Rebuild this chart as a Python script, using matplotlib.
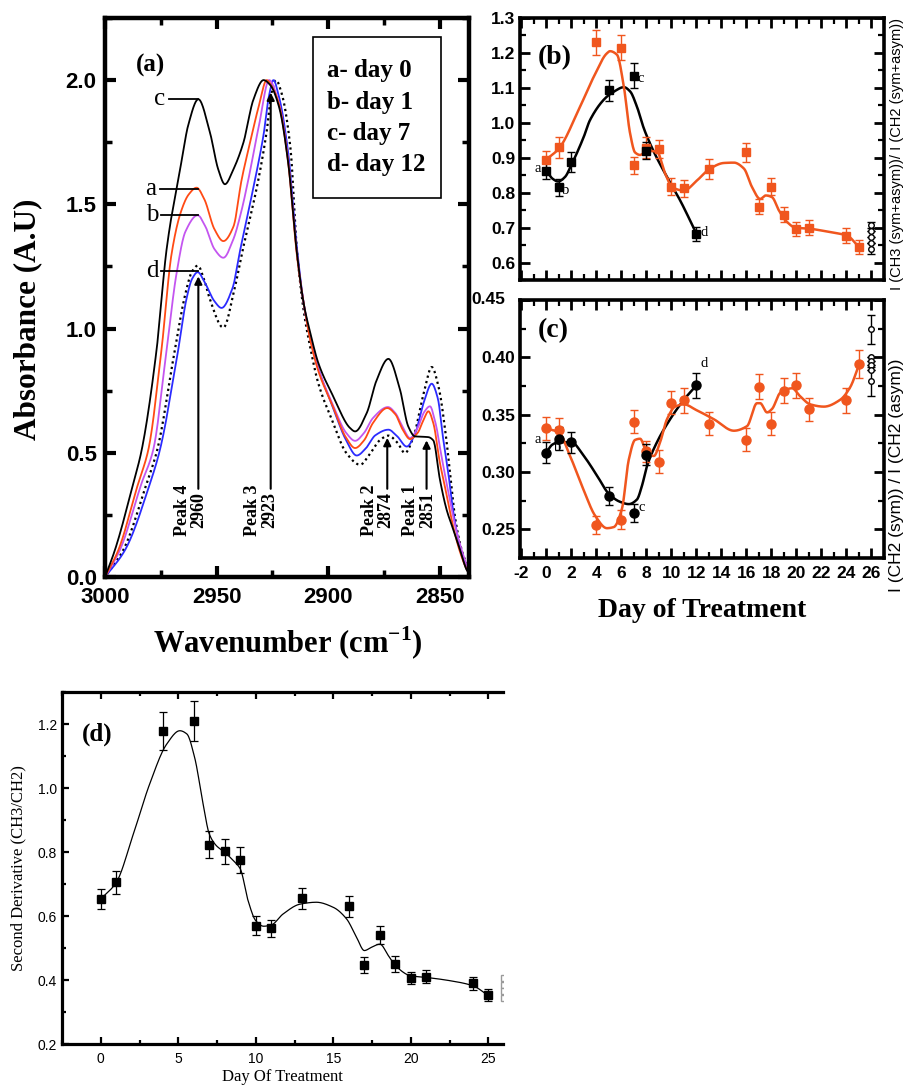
import numpy as np
import matplotlib.pyplot as plt
from matplotlib.ticker import MultipleLocator

SANS = 'Liberation Sans'
SERIF = 'Liberation Serif'
plt.rcParams['axes.unicode_minus'] = False
plt.rcParams['mathtext.fontset'] = 'custom'
plt.rcParams['mathtext.rm'] = 'Liberation Serif'
plt.rcParams['mathtext.bf'] = 'Liberation Serif:bold'

# ---------------- panel (a): FTIR spectra, knots ----------------
wn_day7 = [3000, 2995.5, 2987.3, 2983.6, 2976.9, 2972.4, 2965.6, 2962.7, 2958.2, 2953, 2949.3,
           2946.3, 2942.5, 2938, 2933.5, 2929, 2926, 2922, 2918, 2914, 2911, 2908, 2904.5,
           2897.8, 2890.3, 2888, 2882.8, 2878.3, 2873.1, 2867.9, 2864.2, 2861.2, 2855.2,
           2853, 2850, 2847, 2844, 2841, 2838, 2837]
ab_day7 = [0, 0.11, 0.378, 0.51, 0.915, 1.32, 1.68, 1.82, 1.923, 1.789, 1.641,
           1.581, 1.641, 1.749, 1.923, 2.0, 1.98, 1.89, 1.67, 1.30, 1.10, 0.98, 0.862,
           0.727, 0.60, 0.586, 0.66, 0.794, 0.878, 0.754, 0.606, 0.566, 0.563,
           0.55, 0.391, 0.27, 0.19, 0.109, 0.028, 0.015]

wn_day0 = [3000, 2994, 2985.1, 2980.6, 2974.7, 2970.2, 2966, 2962.5, 2959, 2955.5, 2951, 2947,
           2942.5, 2938.8, 2935, 2931, 2927.6, 2925, 2922, 2918, 2914, 2911, 2908, 2904.5,
           2897.8, 2892, 2888, 2884, 2880, 2873.6, 2870, 2866.5, 2863.4, 2860, 2857, 2855.2,
           2853, 2850, 2847, 2844, 2841, 2838, 2837]
ab_day0 = [0, 0.109, 0.378, 0.512, 0.915, 1.30, 1.47, 1.54, 1.567, 1.52, 1.40, 1.352,
           1.41, 1.60, 1.75, 1.90, 2.0, 1.97, 1.90, 1.67, 1.29, 1.10, 0.95, 0.83,
           0.683, 0.56, 0.519, 0.55, 0.62, 0.68, 0.655, 0.59, 0.555, 0.58, 0.64, 0.667,
           0.62, 0.458, 0.33, 0.2, 0.1, 0.03, 0.015]

wn_day1 = [3000, 2993.3, 2983.6, 2978.4, 2972.4, 2968, 2964, 2958.5, 2955, 2951, 2947,
           2942.5, 2939, 2935.8, 2931, 2926.5, 2922, 2918, 2914, 2911, 2908, 2904.5,
           2897.8, 2892, 2888, 2884, 2880, 2873.3, 2870, 2866.5, 2863.4, 2860, 2857, 2854.5,
           2852, 2849.3, 2846, 2843, 2840, 2837]
ab_day1 = [0, 0.109, 0.378, 0.512, 0.915, 1.22, 1.39, 1.456, 1.41, 1.32, 1.285,
           1.36, 1.47, 1.60, 1.82, 2.0, 1.90, 1.68, 1.30, 1.10, 0.96, 0.84,
           0.69, 0.58, 0.548, 0.58, 0.64, 0.684, 0.66, 0.60, 0.559, 0.60, 0.665, 0.687,
           0.62, 0.485, 0.33, 0.2, 0.1, 0.02]

wn_day12 = [3000, 2991, 2979.8, 2975.4, 2967.2, 2963.5, 2961, 2958.5, 2955, 2951, 2947.8,
            2943, 2938.8, 2932.8, 2929, 2926.5, 2924.6, 2922, 2918, 2914, 2911, 2908, 2904.5,
            2897.8, 2892, 2887.3, 2883, 2879, 2873.1, 2869, 2864.9, 2861, 2857, 2853.7,
            2851, 2848.5, 2846, 2844, 2841, 2838, 2837]
ab_day12 = [0, 0.109, 0.378, 0.512, 0.915, 1.12, 1.20, 1.227, 1.18, 1.11, 1.083,
            1.16, 1.347, 1.60, 1.78, 1.94, 2.0, 1.93, 1.71, 1.32, 1.10, 0.96, 0.84,
            0.68, 0.55, 0.489, 0.52, 0.57, 0.593, 0.565, 0.525, 0.58, 0.71, 0.778,
            0.72, 0.552, 0.40, 0.26, 0.12, 0.03, 0.015]

wn_dot = [3000, 2991.8, 2981.3, 2976.6, 2968.7, 2964, 2961, 2958.5, 2955, 2953, 2947,
          2942, 2938, 2931.3, 2927.5, 2925.4, 2923.4, 2921, 2917, 2914, 2911, 2908, 2904.5,
          2897.8, 2892, 2885.8, 2881, 2877, 2873.1, 2869, 2865.7, 2862, 2857, 2853.7,
          2850.5, 2847.7, 2845, 2843.3, 2840, 2837]
ab_dot = [0, 0.109, 0.378, 0.512, 0.915, 1.14, 1.23, 1.253, 1.18, 1.117, 1.004,
          1.16, 1.33, 1.60, 1.80, 1.95, 2.0, 1.95, 1.73, 1.31, 1.07, 0.92, 0.78,
          0.62, 0.50, 0.452, 0.50, 0.55, 0.569, 0.54, 0.499, 0.56, 0.75, 0.845,
          0.76, 0.593, 0.38, 0.243, 0.10, 0.03]

legend_lines = ['a- day 0', 'b- day 1', 'c- day 7', 'd- day 12']
peak_names = ['Peak 4\n2960', 'Peak 3\n2923', 'Peak 2\n2874', 'Peak 1\n2851']
peak_arrow_wn = [2958.2, 2925.8, 2873.6, 2856.0]
peak_arrow_tip = [1.21, 1.95, 0.56, 0.55]
peak_text_wn = [2961.7, 2930.1, 2877.9, 2859.5]

# ---------------- panel (b): I(CH3)/I(CH2) ----------------
b_blk_day = [0, 1, 2, 5, 7, 8, 12]
b_blk_val = [0.862, 0.815, 0.888, 1.093, 1.135, 0.92, 0.683]
b_blk_err = [0.022, 0.025, 0.028, 0.03, 0.035, 0.025, 0.02]
b_org_day = [0, 1, 4, 6, 7, 8, 9, 10, 11, 13, 16, 17, 18, 19, 20, 21, 24, 25]
b_org_val = [0.894, 0.93, 1.23, 1.215, 0.878, 0.928, 0.925, 0.817, 0.812, 0.868,
             0.915, 0.76, 0.817, 0.737, 0.697, 0.70, 0.677, 0.644]
b_org_err = [0.025, 0.03, 0.035, 0.035, 0.025, 0.03, 0.025, 0.025, 0.025, 0.028,
             0.028, 0.022, 0.025, 0.022, 0.02, 0.022, 0.022, 0.02]
b_ctrl_val = [0.707, 0.690, 0.673, 0.657, 0.640]
b_ctrl_err = [0.008, 0, 0, 0, 0.015]
# smooth trend curves (knots)
b_blk_fit_day = [0, 0.5, 0.95, 1.5, 2, 3, 3.5, 4.85, 5.4, 6.2, 6.7, 7.25, 7.8, 8.6, 9.65, 10.7, 12]
b_blk_fit_val = [0.865, 0.84, 0.832, 0.845, 0.879, 0.96, 1.008, 1.075, 1.089, 1.102, 1.09,
                 1.046, 0.984, 0.917, 0.845, 0.778, 0.683]
b_org_fit_day = [0, 1, 2.7, 3.8, 4.85, 5.1, 5.65, 6.2, 6.7, 7.1, 7.5, 8.05, 8.85, 9.5, 10.05,
                 11, 12.05, 13.1, 14.2, 15, 15.8, 16.45, 17.1, 17.55, 18.05, 18.6, 19.25,
                 19.9, 21, 22.7, 24.05, 25]
b_org_fit_val = [0.895, 0.926, 1.046, 1.132, 1.199, 1.205, 1.195, 1.104, 0.97, 0.915, 0.908,
                 0.92, 0.917, 0.855, 0.816, 0.806, 0.835, 0.869, 0.885, 0.886, 0.869, 0.816,
                 0.782, 0.792, 0.787, 0.749, 0.716, 0.70, 0.697, 0.687, 0.677, 0.644]

# ---------------- panel (c): I(CH2 sym)/I(CH2 asym) ----------------
c_blk_day = [0, 1, 2, 5, 7, 8, 12]
c_blk_val = [0.317, 0.329, 0.326, 0.279, 0.264, 0.315, 0.3755]
c_blk_err = [0.009, 0.01, 0.009, 0.008, 0.008, 0.009, 0.011]
c_org_day = [0, 1, 4, 6, 7, 8, 9, 10, 11, 13, 16, 17, 18, 19, 20, 21, 24, 25]
c_org_val = [0.338, 0.337, 0.254, 0.2585, 0.344, 0.318, 0.309, 0.3605, 0.3625, 0.342,
             0.328, 0.3743, 0.342, 0.371, 0.3755, 0.3547, 0.3625, 0.3942]
c_org_err = [0.01, 0.01, 0.008, 0.008, 0.01, 0.009, 0.01, 0.01, 0.011, 0.01,
             0.01, 0.011, 0.01, 0.011, 0.011, 0.01, 0.011, 0.012]
c_ctrl_val = [0.4245, 0.400, 0.3965, 0.393, 0.389, 0.379]
c_ctrl_err = [0.0125, 0, 0, 0, 0, 0.0125]
c_blk_fit_day = [0, 0.5, 1, 2, 3, 4.05, 5, 5.9, 6.6, 7.25, 7.65, 8.05, 8.85, 9.9, 11, 12]
c_blk_fit_val = [0.317, 0.324, 0.326, 0.326, 0.314, 0.297, 0.281, 0.274, 0.272, 0.276,
                 0.288, 0.305, 0.326, 0.346, 0.363, 0.3755]
c_org_fit_day = [0, 1, 1.9, 3, 3.9, 4.85, 5.4, 6.05, 6.6, 7.1, 7.5, 8.05, 8.6, 9.1, 9.65,
                 10.3, 11, 12, 13.4, 15, 16.05, 16.85, 17.1, 17.65, 18.05, 18.7, 19.65,
                 20.3, 21.1, 22.2, 23.5, 24.3, 25]
c_org_fit_val = [0.338, 0.3345, 0.314, 0.284, 0.262, 0.251, 0.252, 0.268, 0.311, 0.328,
                 0.329, 0.317, 0.314, 0.326, 0.346, 0.357, 0.359, 0.354, 0.346, 0.336,
                 0.34, 0.36, 0.36, 0.352, 0.355, 0.369, 0.373, 0.366, 0.359, 0.357, 0.363,
                 0.374, 0.3935]

# ---------------- panel (d): second derivative CH3/CH2 ----------------
d_day = [0, 1, 4, 6, 7, 8, 9, 10, 11, 13, 16, 17, 18, 19, 20, 21, 24, 25]
d_val = [0.653, 0.705, 1.179, 1.21, 0.823, 0.802, 0.775, 0.570, 0.561, 0.656,
         0.630, 0.448, 0.542, 0.450, 0.406, 0.410, 0.390, 0.353]
d_err = [0.031, 0.035, 0.06, 0.062, 0.043, 0.04, 0.04, 0.03, 0.028, 0.033,
         0.032, 0.025, 0.028, 0.025, 0.02, 0.02, 0.02, 0.018]
d_ctrl_val = [0.405, 0.385, 0.365, 0.345]
d_fit_day = [0, 1, 2.1, 3.15, 4.25, 5.1, 5.55, 6.05, 6.6, 7, 7.45, 8, 8.55, 9, 9.5, 10, 10.5,
             11, 11.75, 12.85, 13.9, 15, 15.85, 16.5, 17, 17.45, 18, 18.55, 19, 20, 21, 22.5,
             24, 25]
d_fit_val = [0.653, 0.705, 0.856, 1.012, 1.137, 1.179, 1.169, 1.096, 0.95, 0.856, 0.82, 0.799,
             0.773, 0.747, 0.648, 0.585, 0.568, 0.572, 0.606, 0.637, 0.643, 0.627, 0.591,
             0.533, 0.492, 0.502, 0.512, 0.476, 0.445, 0.413, 0.408, 0.398, 0.382, 0.351]


def pchip(x, y, xs):
    x = np.asarray(x, float)
    y = np.asarray(y, float)
    o = np.argsort(x)
    x, y = x[o], y[o]
    h = np.diff(x)
    d = np.diff(y) / h
    m = np.zeros_like(y)
    m[0], m[-1] = d[0], d[-1]
    for k in range(1, len(x) - 1):
        if d[k - 1] * d[k] > 0:
            w1 = 2 * h[k] + h[k - 1]
            w2 = h[k] + 2 * h[k - 1]
            m[k] = (w1 + w2) / (w1 / d[k - 1] + w2 / d[k])
    i = np.clip(np.searchsorted(x, xs) - 1, 0, len(h) - 1)
    t = (xs - x[i]) / h[i]
    return ((2 * t**3 - 3 * t**2 + 1) * y[i] + (t**3 - 2 * t**2 + t) * h[i] * m[i]
            + (-2 * t**3 + 3 * t**2) * y[i + 1] + (t**3 - t**2) * h[i] * m[i + 1])


W, H = 907, 1092
fig = plt.figure(figsize=(W / 100, H / 100), dpi=100)


def box(l, t, r, b):
    return fig.add_axes([l / W, 1 - b / H, (r - l) / W, (b - t) / H])


def frame(ax, lw, major, minor, size, weight):
    for s in ax.spines.values():
        s.set_linewidth(lw)
    ax.tick_params(which='both', direction='in', top=True, right=True)
    ax.tick_params(which='major', length=major[0], width=major[1], labelsize=size)
    ax.tick_params(which='minor', length=minor[0], width=minor[1])
    for lab in ax.get_xticklabels() + ax.get_yticklabels():
        lab.set_fontfamily(SANS)
        lab.set_fontweight(weight)


# ===== (a) =====
ax = box(105, 18, 469, 577)
wgrid = np.linspace(2837, 3000, 800)
ax.plot(wgrid, pchip(wn_dot, ab_dot, wgrid), color='black', ls=(0, (1, 1.5)), lw=1.6)
ax.plot(wgrid, pchip(wn_day12, ab_day12, wgrid), color='#2b2bff', lw=1.3)
ax.plot(wgrid, pchip(wn_day1, ab_day1, wgrid), color='#c455f0', lw=1.3)
ax.plot(wgrid, pchip(wn_day0, ab_day0, wgrid), color='#ff4a14', lw=1.3)
ax.plot(wgrid, pchip(wn_day7, ab_day7, wgrid), color='black', lw=1.3)
ax.set_xlim(3000, 2837)
ax.set_ylim(0, 2.25)
ax.xaxis.set_major_locator(MultipleLocator(50))
ax.xaxis.set_minor_locator(MultipleLocator(25))
ax.yaxis.set_minor_locator(MultipleLocator(0.25))
ax.set_yticks([0, 0.5, 1.0, 1.5, 2.0])
frame(ax, 3.2, (8, 3), (5, 2.5), 16, 'bold')
ax.tick_params(axis='x', pad=7)
ax.tick_params(axis='y', pad=6)
ax.set_xlabel('Wavenumber (cm$^{\\mathbf{-1}}$)', fontfamily=SERIF, fontweight='bold',
              fontsize=22)
ax.xaxis.set_label_coords(0.503, -0.085)
ax.set_ylabel('Absorbance (A.U)', fontfamily=SERIF, fontweight='bold', fontsize=22.5)
ax.yaxis.set_label_coords(-0.172, 0.4615)
ax.text(0.085, 0.915, '(a)', transform=ax.transAxes, fontfamily=SERIF, fontweight='bold',
        fontsize=18, ha='left', va='center')
# legend box
ax.add_patch(plt.Rectangle(((313 - 105) / 364, (577 - 198) / 559), 128 / 364, 161 / 559,
                           transform=ax.transAxes, fill=False, lw=1.2, ec='black'))
for k, s in enumerate(legend_lines):
    ax.text((327 - 105) / 364, (577 - (71 + 31.3 * k)) / 559, s, transform=ax.transAxes,
            fontfamily=SERIF, fontweight='bold', fontsize=18, ha='left', va='center')
# curve labels at peak 4
for lab, x_txt, x0, a in [('c', 2975.5, 2971.5, 1.923), ('a', 2979.5, 2975.5, 1.563),
                          ('b', 2979.0, 2975.0, 1.456), ('d', 2978.8, 2974.8, 1.23)]:
    ax.plot([x0, 2958.5], [a, a], color='black', lw=1.3)
    ax.text(x_txt, a, lab, fontfamily=SERIF, fontsize=18, ha='center', va='center')
# peak arrows
for name, xa, tip, xt in zip(peak_names, peak_arrow_wn, peak_arrow_tip, peak_text_wn):
    ax.annotate('', xy=(xa, tip), xytext=(xa, 0.355),
                arrowprops=dict(arrowstyle='-|>', color='black', lw=1.5, mutation_scale=11,
                                shrinkA=0, shrinkB=0))
    ax.text(xt, 0.27, name, rotation=90, fontfamily=SERIF, fontweight='bold', fontsize=13,
            ha='center', va='center', multialignment='center', linespacing=1.0)

# ===== (b) =====
orange = '#f0561e'
axb = box(520, 18, 884, 280)
dgrid_b = np.linspace(0, 12, 300)
axb.plot(dgrid_b, pchip(b_blk_fit_day, b_blk_fit_val, dgrid_b), color='black', lw=1.8)
dgrid_o = np.linspace(0, 25, 600)
axb.plot(dgrid_o, pchip(b_org_fit_day, b_org_fit_val, dgrid_o), color=orange, lw=1.8)
axb.errorbar(b_org_day, b_org_val, yerr=b_org_err, fmt='s', color=orange, ms=5.5,
             capsize=3, elinewidth=1, capthick=1)
axb.errorbar(b_blk_day, b_blk_val, yerr=b_blk_err, fmt='s', color='black', ms=5.5,
             capsize=3, elinewidth=1, capthick=1)
axb.errorbar([26] * len(b_ctrl_val), b_ctrl_val, yerr=b_ctrl_err, fmt='o', color='black',
             mfc='white', ms=4, capsize=3, elinewidth=1, capthick=1)
axb.set_xlim(-2.1, 27)
axb.set_ylim(0.55, 1.3)
axb.xaxis.set_major_locator(MultipleLocator(2))
axb.xaxis.set_minor_locator(MultipleLocator(1))
axb.yaxis.set_minor_locator(MultipleLocator(0.05))
axb.set_yticks([0.6, 0.7, 0.8, 0.9, 1.0, 1.1, 1.2, 1.3])
frame(axb, 2.6, (7, 2), (4, 1.6), 12.5, 'bold')
axb.tick_params(axis='x', labelbottom=False)
axb.text(0.05, 0.85, '(b)', transform=axb.transAxes, fontfamily=SERIF, fontweight='bold',
         fontsize=20, ha='left', va='center')
for s, dx, v in [('a', -0.65, 0.87), ('b', 1.55, 0.807), ('c', 7.55, 1.128), ('d', 12.6, 0.686)]:
    axb.text(dx, v, s, fontfamily=SERIF, fontsize=10.5, ha='center', va='center')

# ===== (c) =====
axc = box(520, 300, 884, 558)
axc.plot(dgrid_b, pchip(c_blk_fit_day, c_blk_fit_val, dgrid_b), color='black', lw=1.8)
axc.plot(dgrid_o, pchip(c_org_fit_day, c_org_fit_val, dgrid_o), color=orange, lw=1.8)
axc.errorbar(c_org_day, c_org_val, yerr=c_org_err, fmt='o', color=orange, ms=6.5,
             capsize=3, elinewidth=1, capthick=1)
axc.errorbar(c_blk_day, c_blk_val, yerr=c_blk_err, fmt='o', color='black', ms=6.5,
             capsize=3, elinewidth=1, capthick=1)
axc.errorbar([26] * len(c_ctrl_val), c_ctrl_val, yerr=c_ctrl_err, fmt='o', color='black',
             mfc='white', ms=4, capsize=3, elinewidth=1, capthick=1)
axc.set_xlim(-2.1, 27)
axc.set_ylim(0.225, 0.45)
axc.set_xticks(np.arange(-2, 27, 2))
axc.xaxis.set_minor_locator(MultipleLocator(1))
axc.set_yticks([0.25, 0.30, 0.35, 0.40, 0.45])
axc.yaxis.set_minor_locator(MultipleLocator(0.025))
axc.set_yticklabels(['0.25', '0.30', '0.35', '0.40', ''])
frame(axc, 2.6, (7, 2), (4, 1.6), 12.5, 'bold')
axc.tick_params(axis='x', pad=6)
axc.set_xlabel('Day of Treatment', fontfamily=SERIF, fontweight='bold', fontsize=20,
               labelpad=12)
axc.text(0.05, 0.88, '(c)', transform=axc.transAxes, fontfamily=SERIF, fontweight='bold',
         fontsize=20, ha='left', va='center')
for s, dx, v in [('a', -0.7, 0.328), ('b', 0.9, 0.321), ('c', 7.6, 0.269), ('d', 12.65, 0.3945)]:
    axc.text(dx, v, s, fontfamily=SERIF, fontsize=10.5, ha='center', va='center')
# the 0.45 label sits above panel (c) on its own
fig.text(505 / W, 1 - 300 / H, '0.45', fontfamily=SANS, fontweight='bold', fontsize=12.5,
         ha='right', va='center')

fig.text(897 / W, 1 - 154 / H, 'I (CH3 (sym+asym))/ I (CH2 (sym+asym))', rotation=90,
         fontfamily=SANS, fontsize=10.5, ha='center', va='center')
fig.text(897 / W, 1 - 475 / H, 'I (CH2 (sym)) / I (CH2 (asym))', rotation=90,
         fontfamily=SANS, fontsize=12.5, ha='center', va='center')

# ===== (d) =====
axd = box(62, 692, 503, 1044)
dgrid_d = np.linspace(0, 25, 600)
axd.plot(dgrid_d, pchip(d_fit_day, d_fit_val, dgrid_d), color='black', lw=0.9)
axd.errorbar(d_day, d_val, yerr=d_err, fmt='s', color='black', ms=6, capsize=3,
             elinewidth=0.9, capthick=0.9)
axd.plot([26] * len(d_ctrl_val), d_ctrl_val, 's', mfc='white', mec='#9a9a9a', ms=5,
         clip_on=True)
axd.set_xlim(-2.5, 25.94)
axd.set_ylim(0.2, 1.3)
axd.xaxis.set_major_locator(MultipleLocator(5))
axd.xaxis.set_minor_locator(MultipleLocator(2.5))
axd.set_yticks([0.2, 0.4, 0.6, 0.8, 1.0, 1.2])
axd.yaxis.set_minor_locator(MultipleLocator(0.1))
frame(axd, 2.3, (5, 1.6), (3, 1.6), 10, 'normal')
axd.spines['right'].set_visible(False)
axd.tick_params(which='both', right=False)
axd.tick_params(axis='x', pad=6)
axd.set_xlabel('Day Of Treatment', fontfamily=SERIF, fontsize=12, labelpad=2)
axd.set_ylabel('Second Derivative (CH3/CH2)', fontfamily=SERIF, fontsize=12, labelpad=8)
axd.text(0.045, 0.88, '(d)', transform=axd.transAxes, fontfamily=SERIF, fontweight='bold',
         fontsize=18, ha='left', va='center')

fig.savefig('out.png', dpi=100)
